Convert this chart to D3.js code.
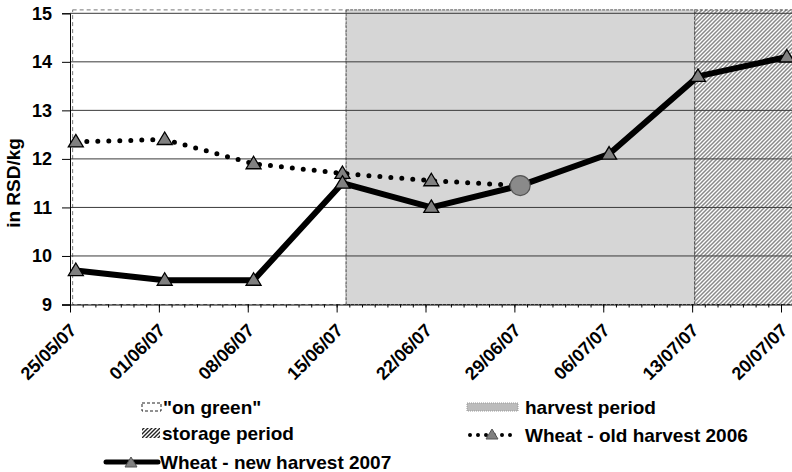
<!DOCTYPE html>
<html>
<head>
<meta charset="utf-8">
<script src="https://cdn.jsdelivr.net/npm/d3@7"></script>
<style>
  html, body { margin: 0; padding: 0; background: #fff; }
  svg { display: block; }
  text { font-family: "Liberation Sans", Arial, sans-serif; font-weight: bold; fill: #000; }
</style>
</head>
<body>
<svg id="chart" width="792" height="472"></svg>
<script>
// ---- data ----
const tickDates = ["2007-05-25","2007-06-01","2007-06-08","2007-06-15","2007-06-22","2007-06-29","2007-07-06","2007-07-13","2007-07-20"];
const obsDates = ["2007-05-25T11:00","2007-06-01T11:00","2007-06-08T11:00","2007-06-15T11:00","2007-06-22T11:00","2007-06-29T11:00","2007-07-06T11:00","2007-07-13T11:00","2007-07-20T11:00"];
const newHarvest2007 = [9.7, 9.5, 9.5, 11.5, 11.0, 11.45, 12.1, 13.7, 14.1];
const oldHarvest2006 = [12.35, 12.4, 11.9, 11.7, 11.55, 11.45, null, null, null];
const yTicks = [9, 10, 11, 12, 13, 14, 15];
const periodNames = ["on green", "harvest", "storage"];
const periodStart = ["2007-05-25T05:00", "2007-06-15T18:00", "2007-07-13T05:00"];
const periodEnd   = ["2007-06-15T18:00", "2007-07-13T05:00", "2007-07-21T12:00"];
const periodTop = 15.07;
const legendLabels = ["\"on green\"", "harvest period", "storage period", "Wheat - old harvest 2006", "Wheat - new harvest 2007"];

// ---- setup ----
const parse = d3.utcParse("%Y-%m-%dT%H:%M");
const parseDay = d3.utcParse("%Y-%m-%d");
const fmt = d3.utcFormat("%d/%m/%y");
const svg = d3.select("#chart");

const x = d3.scaleUtc()
  .domain([parseDay("2007-05-25"), parseDay("2007-07-20")])
  .range([70, 781]);
const y = d3.scaleLinear().domain([9, 15]).range([304.5, 13.3]);

const defs = svg.append("defs");
const hatch = defs.append("pattern").attr("id", "hatch")
  .attr("patternUnits", "userSpaceOnUse").attr("width", 4).attr("height", 4);
hatch.append("rect").attr("width", 4).attr("height", 4).attr("fill", "#fff");
hatch.append("path").attr("d", "M-1,1 l2,-2 M0,4 l4,-4 M3,5 l2,-2")
  .attr("stroke", "#8a8a8a").attr("stroke-width", 1.5);
const hatch2 = defs.append("pattern").attr("id", "hatch2")
  .attr("patternUnits", "userSpaceOnUse").attr("width", 4).attr("height", 4);
hatch2.append("rect").attr("width", 4).attr("height", 4).attr("fill", "#fff");
hatch2.append("path").attr("d", "M-1,1 l2,-2 M0,4 l4,-4 M3,5 l2,-2")
  .attr("stroke", "#222").attr("stroke-width", 1.4);

// ---- periods ----
const periods = periodNames.map((n, i) => ({ name: n, s: parse(periodStart[i]), e: parse(periodEnd[i]) }));
const pStyle = {
  "on green": { fill: "#fff", stroke: "#777", dash: "4,3" },
  "harvest": { fill: "#d6d6d6", stroke: "#555", dash: "3,1" },
  "storage": { fill: "url(#hatch)", stroke: "#444", dash: "3,2" }
};
svg.append("g").selectAll("rect").data(periods).join("rect")
  .attr("x", d => x(d.s)).attr("width", d => x(d.e) - x(d.s))
  .attr("y", y(periodTop)).attr("height", y(9) - y(periodTop))
  .attr("fill", d => pStyle[d.name].fill)
  .attr("stroke", d => pStyle[d.name].stroke)
  .attr("stroke-dasharray", d => pStyle[d.name].dash)
  .attr("stroke-width", 1);

// ---- gridlines ----
svg.append("g").selectAll("line").data(yTicks.filter(v => v > 9)).join("line")
  .attr("x1", 70).attr("x2", 792)
  .attr("y1", d => y(d)).attr("y2", d => y(d))
  .attr("stroke", "#3a3a3a").attr("stroke-width", 1);

// ---- axes ----
const yAxis = svg.append("g").attr("transform", "translate(70,0)")
  .call(d3.axisLeft(y).tickValues(yTicks).tickSize(8).tickPadding(10).tickFormat(d3.format("d")));
yAxis.select(".domain").attr("stroke", "#000");
yAxis.selectAll(".tick line").attr("stroke", "#000");
yAxis.selectAll("text").attr("font-size", 18).attr("font-weight", "bold")
  .attr("font-family", "Liberation Sans, Arial, sans-serif").attr("fill", "#000");

// minor daily ticks
const xAxisMinor = svg.append("g").attr("transform", `translate(0,${y(9)})`)
  .call(d3.axisBottom(x).ticks(d3.utcDay.every(1)).tickSize(3).tickFormat(""));
xAxisMinor.select(".domain").remove();
xAxisMinor.selectAll(".tick line").attr("stroke", "#000");

const xAxis = svg.append("g").attr("transform", `translate(0,${y(9)})`)
  .call(d3.axisBottom(x).tickValues(tickDates.map(parseDay)).tickSize(8).tickSizeOuter(0).tickFormat(fmt));
xAxis.select(".domain").attr("d", `M62,0.5H792`).attr("stroke", "#000");
xAxis.selectAll(".tick line").attr("stroke", "#000");
xAxis.selectAll("text")
  .attr("font-size", 18).attr("font-weight", "bold")
  .attr("font-family", "Liberation Sans, Arial, sans-serif").attr("fill", "#000")
  .attr("text-anchor", "end").attr("dy", null).attr("y", null)
  .attr("transform", "translate(7,27) rotate(-45)");

// y title
svg.append("text").attr("transform", "translate(20,183) rotate(-90)")
  .attr("text-anchor", "middle").attr("font-size", 19).text("in RSD/kg");

// ---- series ----
const triPath = "M0,-7.5 L7.5,5 L-7.5,5 Z";
const oldPts = obsDates.map((d, i) => ({ d: parse(d), v: oldHarvest2006[i] })).filter(p => p.v != null);
const newPts = obsDates.map((d, i) => ({ d: parse(d), v: newHarvest2007[i] }));

const line = d3.line().x(p => x(p.d)).y(p => y(p.v));
svg.append("path").datum(oldPts).attr("d", line)
  .attr("fill", "none").attr("stroke", "#000").attr("stroke-width", 5)
  .attr("stroke-linecap", "round").attr("stroke-dasharray", "0,11");

svg.append("path").datum(newPts).attr("d", line)
  .attr("fill", "none").attr("stroke", "#000").attr("stroke-width", 6)
  .attr("stroke-linejoin", "round");

// old-harvest markers (except last which is circle)
svg.append("g").selectAll("path").data(oldPts.slice(0, -1)).join("path")
  .attr("d", triPath).attr("transform", p => `translate(${x(p.d)},${y(p.v)})`)
  .attr("fill", "#808080").attr("stroke", "#000").attr("stroke-width", 1.3);
// new-harvest markers (skip the circle point)
const circleIdx = 5;
svg.append("g").selectAll("path").data(newPts.filter((p, i) => i !== circleIdx)).join("path")
  .attr("d", triPath).attr("transform", p => `translate(${x(p.d)},${y(p.v)})`)
  .attr("fill", "#808080").attr("stroke", "#000").attr("stroke-width", 1.3);
const cp = oldPts[oldPts.length - 1];
svg.append("circle").attr("cx", x(cp.d)).attr("cy", y(cp.v)).attr("r", 10)
  .attr("fill", "#8a8a8a").attr("stroke", "#555").attr("stroke-width", 1.2);

// ---- legend ----
const lg = svg.append("g");
const fs = 19;
// row1 left: on green
lg.append("rect").attr("x", 142).attr("y", 403).attr("width", 19).attr("height", 8)
  .attr("fill", "#fff").attr("stroke", "#222").attr("stroke-dasharray", "3,2");
lg.append("text").attr("x", 163).attr("y", 413.5).attr("font-size", fs).text(legendLabels[0]);
// row1 right: harvest
lg.append("rect").attr("x", 467).attr("y", 403).attr("width", 51).attr("height", 8)
  .attr("fill", "#bcbcbc").attr("stroke", "#999").attr("stroke-dasharray", "1,1");
lg.append("text").attr("x", 525).attr("y", 413.5).attr("font-size", fs).text(legendLabels[1]);
// row2 left: storage
lg.append("rect").attr("x", 142).attr("y", 428).attr("width", 18).attr("height", 10)
  .attr("fill", "url(#hatch2)");
lg.append("text").attr("x", 162).attr("y", 440).attr("font-size", fs).text(legendLabels[2]);
// row2 right: old harvest
lg.append("line").attr("x1", 470).attr("x2", 516).attr("y1", 435).attr("y2", 435)
  .attr("stroke", "#000").attr("stroke-width", 4).attr("stroke-linecap", "round")
  .attr("stroke-dasharray", "0,8");
lg.append("path").attr("d", "M0,-6 L6,4 L-6,4 Z").attr("transform", "translate(492,435)")
  .attr("fill", "#808080").attr("stroke", "#555").attr("stroke-width", 1);
lg.append("text").attr("x", 525).attr("y", 441.5).attr("font-size", fs).text(legendLabels[3]);
// row3 left: new harvest
lg.append("line").attr("x1", 106).attr("x2", 158).attr("y1", 462).attr("y2", 462)
  .attr("stroke", "#000").attr("stroke-width", 5).attr("stroke-linecap", "round");
lg.append("path").attr("d", "M0,-6 L6,4 L-6,4 Z").attr("transform", "translate(131,463)")
  .attr("fill", "#808080").attr("stroke", "#555").attr("stroke-width", 1);
lg.append("text").attr("x", 160).attr("y", 468.5).attr("font-size", fs).text(legendLabels[4]);
</script>
</body>
</html>
